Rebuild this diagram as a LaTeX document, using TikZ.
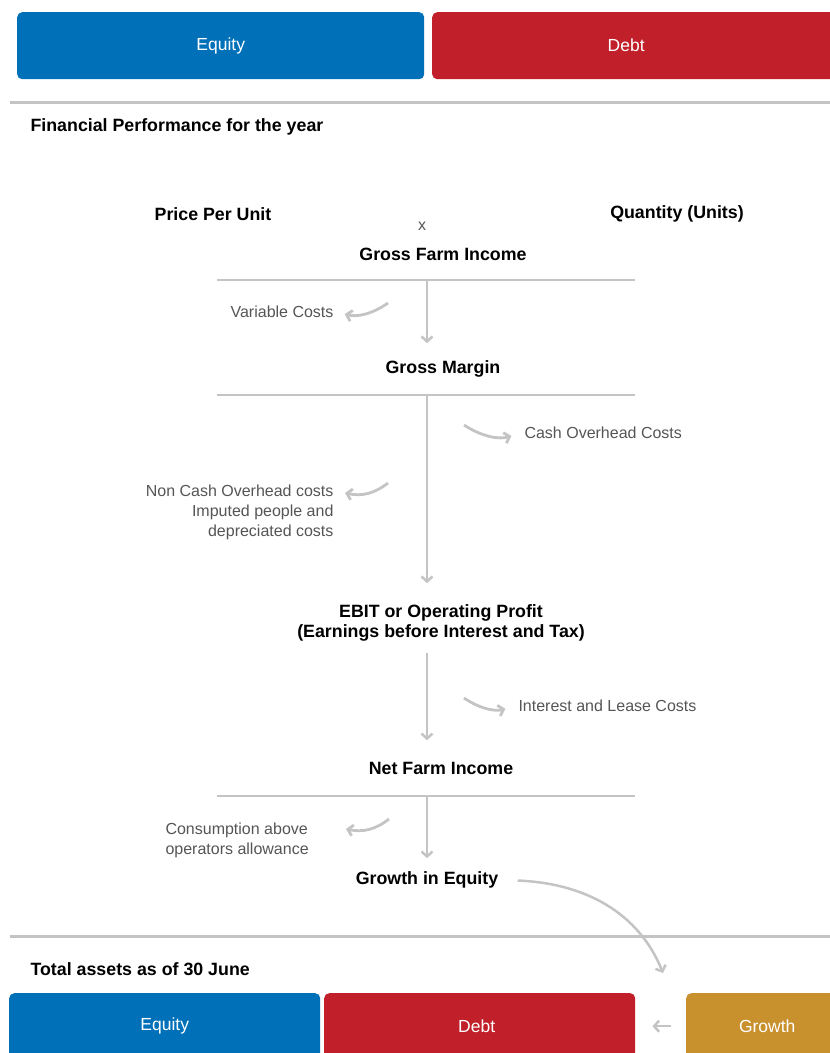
\documentclass[tikz,border=0pt]{standalone}
\usepackage{fontspec}
\setmainfont{Liberation Sans}
\usepackage{xcolor}
\usepackage{tikz}
\usetikzlibrary{arrows.meta}

\definecolor{eqblue}{HTML}{0070B8}
\definecolor{debtred}{HTML}{C1202A}
\definecolor{growgold}{HTML}{C9902E}
\definecolor{flowgrey}{HTML}{C4C4C4}
\definecolor{notegrey}{HTML}{555555}

\begin{document}
\begin{tikzpicture}[x=1pt, y=-1pt,
	box/.style={rounded corners=5pt, anchor=north west, inner sep=0pt, text=white, font=\fontsize{17.5}{20}\selectfont},
	head/.style={font=\fontsize{17.8}{20}\selectfont\bfseries},
	note/.style={text=notegrey, font=\fontsize{16}{20}\selectfont},
	flow/.style={draw=flowgrey, line width=2.5pt, -{Straight Barb[length=5pt, width=11pt]}},
	cost/.style={flow, line width=2.8pt},
	rule/.style={draw=flowgrey, line width=2pt},
	section/.style={draw=flowgrey, line width=3pt}]
		%page size
		\useasboundingbox (0,0) rectangle (830,1053);
		\clip (0,0) rectangle (830,1053);
		
		%definition of the bars and the flow line
		\def\ruleL{217};
		\def\ruleR{635};
		\def\flowX{427};
		
		%opening balance
		\node [box, fill=eqblue, minimum width=407pt, minimum height=67pt] (topEquity) at (17,12) {Equity};
		\node [box, fill=debtred, minimum width=420pt, minimum height=67pt] (topDebt) at (432,12) {Debt\hspace*{32pt}};
		\draw [section] (10,102) -- (830,102);
		\node [head, anchor=west] (perfTitle) at (27,127) {Financial Performance for the year};
		
		%income
		\node [head] (price) at (213,214) {Price Per Unit};
		\node [note] (times) at (422,226) {x};
		\node [head] (qty) at (677,214) {Quantity (Units)};
		\node [head] (gfi) at (443,254) {Gross Farm Income};
		\draw [rule] (\ruleL,280) -- (\ruleR,280);
		\coordinate (gfiBar) at (\flowX,280);
		
		%gross margin
		\node [head] (gm) at (443,369) {Gross Margin};
		\draw [flow, shorten >=14pt] (gfiBar) -- (gfiBar |- gm.north);
		\node [note, anchor=east] (varCost) at (337,312) {Variable Costs};
		\coordinate (varFrom) at (388,303);
		\draw [cost, shorten >=8pt] (varFrom) to [bend left=25] (varCost.east);
		\draw [rule] (\ruleL,395) -- (\ruleR,395);
		\coordinate (gmBar) at (\flowX,395);
		
		%overheads
		\node [head, align=center] (ebit) at (441,623) {EBIT or Operating Profit\\(Earnings before Interest and Tax)};
		\draw [flow, shorten >=18pt] (gmBar) -- (gmBar |- ebit.north);
		\node [note, anchor=west] (cashCost) at (521,433) {Cash Overhead Costs};
		\coordinate (cashFrom) at (464,425);
		\draw [cost, shorten >=10pt] (cashFrom) to [bend right=25] (cashCost.west);
		\node [note, anchor=north east, align=right] (nonCash) at (337,481) {Non Cash Overhead costs\\Imputed people and\hspace{4pt}\\depreciated costs};
		\coordinate (nonCashFrom) at (388,483);
		\coordinate (nonCashTip) at (345,493);
		\draw [cost] (nonCashFrom) to [bend left=25] (nonCashTip);
		
		%net farm income
		\node [head] (nfi) at (441,768) {Net Farm Income};
		\draw [flow, shorten <=8pt, shorten >=18pt] (ebit.south -| gmBar) -- (gmBar |- nfi.north);
		\node [note, anchor=west] (leaseCost) at (515,706) {Interest and Lease Costs};
		\coordinate (leaseFrom) at (464,698);
		\draw [cost, shorten >=10pt] (leaseFrom) to [bend right=25] (leaseCost.west);
		\draw [rule] (\ruleL,796) -- (\ruleR,796);
		\coordinate (nfiBar) at (\flowX,796);
		
		%growth in equity
		\node [head] (geq) at (427,880) {Growth in Equity};
		\draw [flow, shorten >=10pt] (nfiBar) -- (geq.north);
		\node [note, anchor=north west, align=left] (drawings) at (162,819) {Consumption above\\operators allowance};
		\coordinate (drawFrom) at (389,819);
		\coordinate (drawTip) at (346,829);
		\draw [cost] (drawFrom) to [bend left=25] (drawTip);
		
		%closing balance
		\draw [section] (10,936) -- (830,936);
		\node [head, anchor=west] (assetTitle) at (27,969) {Total assets as of 30 June};
		\node [box, fill=eqblue, minimum width=311pt, minimum height=66pt] (btmEquity) at (9,993) {Equity};
		\node [box, fill=debtred, minimum width=311pt, minimum height=66pt] (btmDebt) at (324,993) {Debt\hspace*{6pt}};
		\node [box, fill=growgold, minimum width=162pt, minimum height=66pt] (growth) at (686,993) {Growth};
		\coordinate (growthTip) at (663,973);
		\draw [flow, shorten <=16pt] (geq.east) to [out=-2, in=112] (growthTip);
		\draw [flow, shorten <=15pt, shorten >=17pt] (growth.west) -- (btmDebt.east);
	\end{tikzpicture}
\end{document}
